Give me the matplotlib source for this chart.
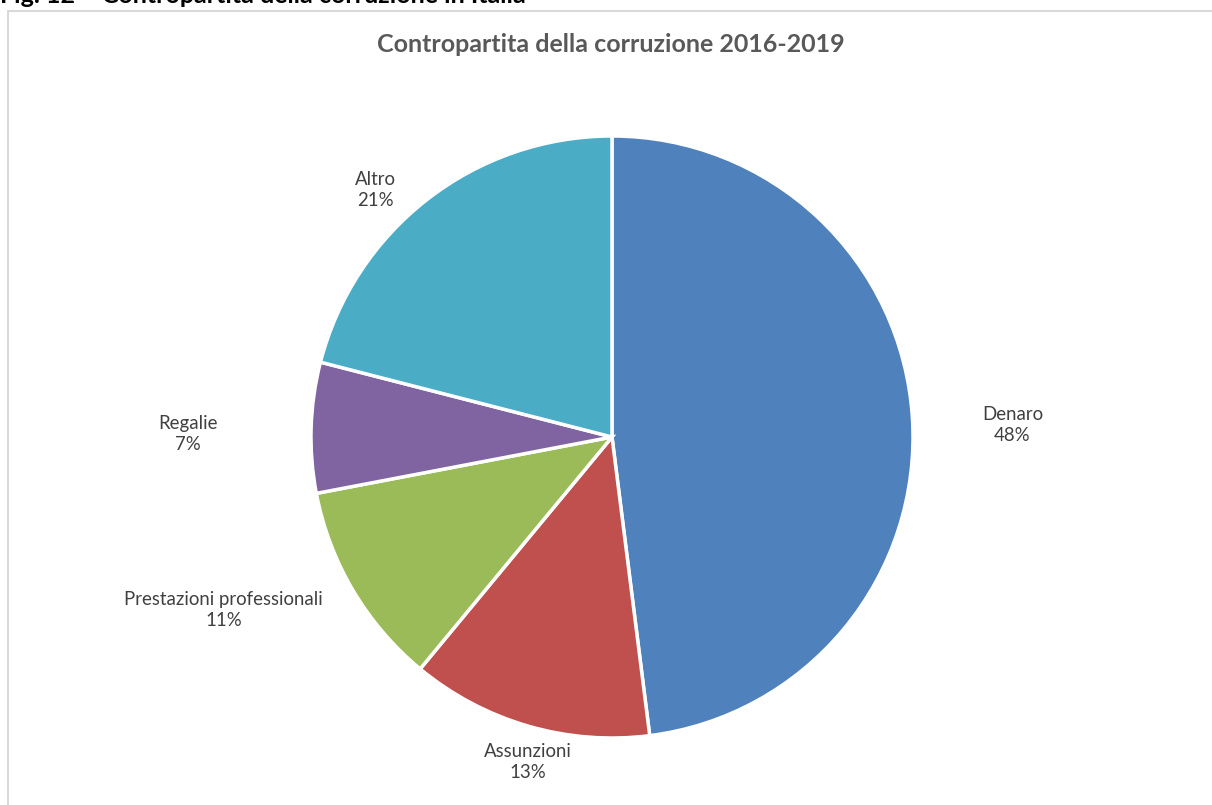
import matplotlib.pyplot as plt
from matplotlib.patches import Rectangle

plt.rcParams['font.family'] = ['Lato', 'DejaVu Sans']

# shares of each form of bribe, clockwise from 12 o'clock
categories = ['Denaro', 'Assunzioni', 'Prestazioni professionali', 'Regalie', 'Altro']
shares = [48, 13, 11, 7, 21]
colors = ['#4F81BD', '#C0504D', '#9BBB59', '#8064A2', '#4BACC6']

# where each label sits, in pie radius units
label_pos = [(1.33, 0.04), (-0.28, -1.08), (-1.29, -0.575), (-1.41, 0.01), (-0.785, 0.82)]

W, H = 1212, 805
fig = plt.figure(figsize=(W / 100, H / 100), dpi=100)

# pie box: centre (612, 437) px, radius 301 px
cx, cy, r = 612, 437, 301
ax = fig.add_axes([(cx - r) / W, (H - cy - r) / H, 2 * r / W, 2 * r / H])
ax.pie(shares, colors=colors, startangle=90, counterclock=False,
       wedgeprops=dict(edgecolor='white', linewidth=2.5))
ax.set_xlim(-1, 1)
ax.set_ylim(-1, 1)
ax.set_aspect('auto')
ax.axis('off')

for name, val, (lx, ly) in zip(categories, shares, label_pos):
    ax.text(lx, ly, f'{name}\n{val}%', ha='center', va='center', fontsize=13.4,
            color='#404040', linespacing=1.3, clip_on=False)

# chart frame running off the right and bottom edges
fig.patches.append(Rectangle((8 / W, -0.05), 1.1, 1 - 11 / H + 0.05,
                             transform=fig.transFigure, fill=False,
                             edgecolor='#D9D9D9', linewidth=1.5))

fig.text(611 / W, 1 - 45 / H, 'Contropartita della corruzione 2016-2019',
         ha='center', va='center', fontsize=18, fontweight='bold', color='#595959')

# figure caption, cut by the top edge
fig.text(0, 1 - 3 / H, 'Fig. 12 – Contropartita della corruzione in Italia',
         ha='left', va='baseline', fontsize=18, fontweight='bold', color='black')

fig.savefig('out.png', dpi=100, facecolor='white')
